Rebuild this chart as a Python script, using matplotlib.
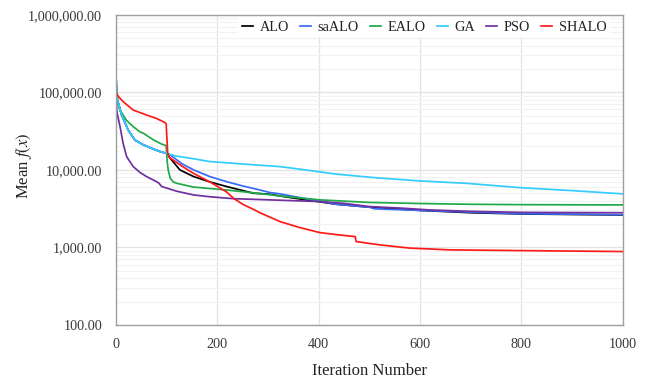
import matplotlib
matplotlib.use("Agg")
import matplotlib.pyplot as plt
from matplotlib.ticker import FuncFormatter, LogLocator, NullFormatter

plt.rcParams['font.family'] = ['Liberation Serif', 'DejaVu Serif']
plt.rcParams['mathtext.fontset'] = 'stix'

series_names = ["ALO", "saALO", "EALO", "GA", "PSO", "SHALO"]
series_colors = ["#000000", "#3A6BF5", "#1FAA4A", "#33CCFF", "#7030A0", "#FF1A1A"]

# GA (cyan)
ga_iter = [0, 1, 3, 11, 24, 37, 54, 74, 87, 100, 107, 120, 150, 185, 250, 324, 363, 435, 514, 600, 692, 797, 900, 1000]
ga_val = [167000, 110000, 79000, 51000, 32700, 24300, 21000, 18500, 17200, 16300, 15800, 15000, 14000, 12800,
          11900, 11000, 10200, 8800, 7900, 7200, 6700, 5900, 5400, 4900]

# ALO (black)
alo_iter = [0, 1, 3, 11, 24, 37, 54, 74, 87, 100, 103, 107, 126, 153, 185, 218, 271, 304, 324, 370, 435, 501,
            600, 700, 800, 1000]
alo_val = [167000, 110000, 79000, 51000, 32700, 24300, 21000, 18500, 17200, 16300, 15500, 14100, 10000, 8200,
           7000, 6100, 5000, 4850, 4600, 4150, 3600, 3300, 3000, 2800, 2700, 2620]

# saALO (blue)
saalo_iter = [0, 1, 3, 11, 24, 37, 54, 74, 87, 100, 103, 107, 130, 153, 185, 218, 250, 284, 304, 324, 370, 435,
              500, 510, 600, 700, 797, 1000]
saalo_val = [167000, 110000, 79000, 51000, 32700, 24300, 21000, 18500, 17200, 16300, 16000, 15600, 12000, 10000,
             8200, 7050, 6200, 5500, 5100, 4900, 4300, 3600, 3300, 3150, 3000, 2850, 2720, 2640]

# EALO (green)
ealo_iter = [0, 2, 8, 20, 34, 47, 54, 74, 90, 99, 101, 103, 107, 113, 120, 153, 218, 284, 324, 403, 501, 600,
             700, 800, 1000]
ealo_val = [97000, 75000, 59000, 44000, 36000, 31000, 29600, 24300, 21500, 20500, 13000, 10000, 7800, 7000, 6700,
            6000, 5500, 4950, 4600, 4100, 3800, 3680, 3600, 3560, 3530]

# PSO (purple)
pso_iter = [0, 2, 8, 14, 21, 34, 47, 60, 80, 85, 90, 120, 153, 185, 232, 304, 403, 450, 501, 567, 620, 700, 800,
            1000]
pso_val = [82000, 55000, 36000, 22000, 14800, 11000, 9300, 8200, 7050, 6700, 6100, 5300, 4750, 4500, 4250, 4100,
           3900, 3700, 3360, 3200, 3040, 2920, 2830, 2800]

# SHALO (red)
shalo_iter = [0, 5, 14, 34, 60, 80, 97, 99, 102, 105, 130, 153, 185, 218, 232, 250, 271, 284, 324, 363, 403, 440,
              472, 474, 520, 580, 659, 800, 1000]
shalo_val = [100000, 88000, 75700, 59000, 51000, 46000, 40600, 39000, 16500, 14500, 11200, 9000, 7000, 5200, 4300,
             3600, 3100, 2800, 2150, 1800, 1550, 1450, 1380, 1190, 1080, 980, 930, 910, 885]

x_ticks = [0, 200, 400, 600, 800, 1000]
y_ticks = [100, 1000, 10000, 100000, 1000000]

all_iters = [alo_iter, saalo_iter, ealo_iter, ga_iter, pso_iter, shalo_iter]
all_vals = [alo_val, saalo_val, ealo_val, ga_val, pso_val, shalo_val]

W, H = 646, 381
fig = plt.figure(figsize=(W / 100, H / 100), dpi=100)
ax = fig.add_axes([116 / W, 1 - 325 / H, (622.7 - 116) / W, (325 - 14.7) / H])

for it, v, name, c in zip(all_iters, all_vals, series_names, series_colors):
    ax.plot(it, v, color=c, lw=1.25, label=name, solid_joinstyle='round')

ax.set_yscale('log')
ax.set_ylim(100, 1000000)
ax.set_xlim(0, 1000)
ax.set_xticks(x_ticks)
ax.set_yticks(y_ticks)
ax.yaxis.set_major_formatter(FuncFormatter(lambda v, p: f"{v:,.2f}"))
ax.yaxis.set_minor_locator(LogLocator(base=10, subs=range(2, 10)))
ax.yaxis.set_minor_formatter(NullFormatter())

ax.grid(True, which='major', color='#e3e3e3', lw=0.9)
ax.grid(True, which='minor', axis='y', color='#f2f2f2', lw=0.8)
ax.set_axisbelow(True)

for s in ax.spines.values():
    s.set_color('#a0a0a0')
    s.set_linewidth(1.0)

ax.tick_params(axis='both', which='both', length=0, labelsize=10.3, colors='#3a3a3a')
ax.tick_params(axis='y', pad=10)
ax.tick_params(axis='x', pad=9)

fig.text(370 / W, 1 - 371 / H, "Iteration Number", ha='center', va='center', fontsize=12, color='#222222')
fig.text(24 / W, 1 - 166 / H, "Mean $f(x)$", ha='center', va='center', rotation=90, fontsize=12,
         color='#222222')

leg = ax.legend(loc='upper right', bbox_to_anchor=(610 / W, 1 - 17 / H), bbox_transform=fig.transFigure,
                ncol=6, fontsize=10.3, frameon=True, handlelength=0.8, handletextpad=0.45, columnspacing=0.75,
                borderpad=0.25, borderaxespad=0)
leg.get_frame().set_facecolor('white')
leg.get_frame().set_edgecolor('none')
leg.get_frame().set_alpha(1.0)
leg.get_frame().set_boxstyle('square', pad=0)
for t in leg.get_texts():
    t.set_color('#222222')

fig.savefig("out.png", dpi=100)
